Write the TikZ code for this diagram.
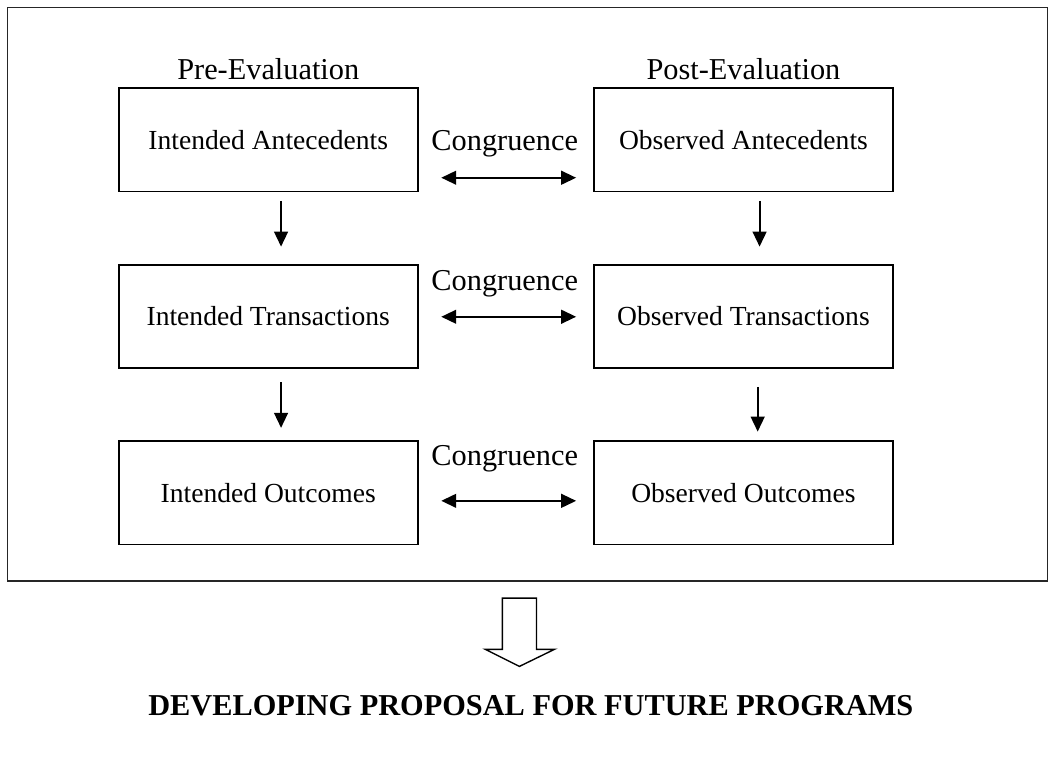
\documentclass[tikz,border=0pt]{standalone}
\usepackage{fontspec}
\setmainfont{Liberation Serif}
\usepackage{tikz}
\usetikzlibrary{positioning,arrows.meta}

\tikzset{
    stagebox/.style={draw, line width=0.8pt, minimum width=130pt, minimum height=45pt,
        inner sep=0pt, font=\fontsize{12}{14}\selectfont},
    headtext/.style={inner sep=0pt, font=\fontsize{13.2}{15}\selectfont},
    congtext/.style={inner sep=0pt, font=\fontsize{13.2}{15}\selectfont},
    flow/.style={line width=0.8pt, -{Triangle[length=6.5pt,width=6pt]}},
    bothflow/.style={line width=0.8pt, {Triangle[length=6.5pt,width=6pt]}-{Triangle[length=6.5pt,width=6pt]}},
    frame/.style={line width=0.6pt, black!85}
}

\begin{document}
\begin{tikzpicture}[x=0.4125pt, y=-0.4125pt]
    \useasboundingbox (0,0) rectangle (1113,799);
    \draw[frame] (8,8) rectangle (1105,613);

    % left column
    \node[stagebox] (ia) at (283,147.5) {Intended Antecedents};
    \node[stagebox, below=31pt of ia] (it) {Intended Transactions};
    \node[stagebox, below=31pt of it] (io) {Intended Outcomes};

    % right column
    \node[stagebox, right=76pt of ia] (oa) {Observed Antecedents};
    \node[stagebox, right=76pt of it] (ot) {Observed Transactions};
    \node[stagebox, right=76pt of io] (oo) {Observed Outcomes};

    \node[headtext, anchor=base] (pre) at ([shift={(0,-8)}]ia.north) {Pre-Evaluation};
    \node[headtext, anchor=base] (post) at ([shift={(0,-8)}]oa.north) {Post-Evaluation};

    \draw[flow] ([shift={(13.5,9)}]ia.south) -- ([shift={(13.5,-18)}]it.north);
    \draw[flow] ([shift={(13.5,14)}]it.south) -- ([shift={(13.5,-13)}]io.north);
    \draw[flow] ([shift={(17,9)}]oa.south) -- ([shift={(17,-18)}]ot.north);
    \draw[flow] ([shift={(15,19)}]ot.south) -- ([shift={(15,-9)}]oo.north);

    \draw[bothflow] ([shift={(24,40)}]ia.east) -- ([shift={(-18,40)}]oa.west);
    \draw[bothflow] ([shift={(24,0.5)}]it.east) -- ([shift={(-18,0.5)}]ot.west);
    \draw[bothflow] ([shift={(24,8.5)}]io.east) -- ([shift={(-18,8.5)}]oo.west);

    \node[congtext, anchor=base] (cong1) at (532.5,159) {Congruence};
    \node[congtext, anchor=base] (cong2) at (532.5,306) {Congruence};
    \node[congtext, anchor=base] (cong3) at (532.5,491) {Congruence};

    % hollow arrow to the proposal
    \draw[line width=0.6pt] (530,631) -- (530,685) -- (512,685) -- (548,703)
        -- (585,685) -- (566,685) -- (566,631) -- cycle;

    \node[anchor=base, inner sep=0pt, font=\fontsize{13.2}{15}\selectfont\bfseries] (proposal)
        at (560,755) {DEVELOPING PROPOSAL FOR FUTURE PROGRAMS};
\end{tikzpicture}
\end{document}
